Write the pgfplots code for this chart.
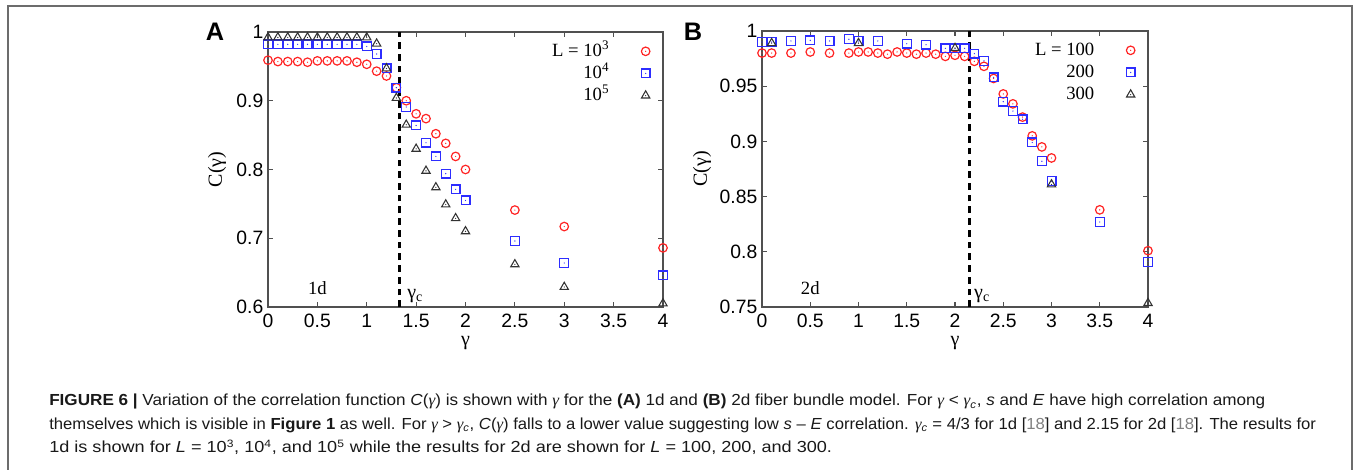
\documentclass[border=0pt]{standalone}
\usepackage{fontspec}
\setmainfont{Liberation Serif}
\setsansfont{Liberation Sans}
\usepackage{pgfplots}
\pgfplotsset{compat=1.18}

\definecolor{mred}{RGB}{255,35,35}
\definecolor{mblue}{RGB}{45,45,255}
\definecolor{mgray}{RGB}{50,50,50}
\definecolor{axgray}{RGB}{80,80,80}

% open marks with a dot in the middle
\pgfdeclareplotmark{dcirc}{%
  \pgfpathcircle{\pgfpointorigin}{\pgfplotmarksize}\pgfusepathqstroke
  \pgfpathcircle{\pgfpointorigin}{0.5pt}\pgfusepathqfill}
\pgfdeclareplotmark{dsq}{%
  \pgfpathrectangle{\pgfpoint{-\pgfplotmarksize}{-\pgfplotmarksize}}{\pgfpoint{2\pgfplotmarksize}{2\pgfplotmarksize}}\pgfusepathqstroke
  \pgfpathcircle{\pgfpointorigin}{0.5pt}\pgfusepathqfill}
\pgfdeclareplotmark{dtri}{%
  \pgfpathmoveto{\pgfpointpolar{90}{\pgfplotmarksize}}%
  \pgfpathlineto{\pgfpointpolar{210}{\pgfplotmarksize}}%
  \pgfpathlineto{\pgfpointpolar{330}{\pgfplotmarksize}}%
  \pgfpathclose\pgfusepathqstroke
  \pgfpathcircle{\pgfpointorigin}{0.5pt}\pgfusepathqfill}

\pgfplotsset{
  fb/.style={
    scale only axis, clip=false,
    axis line style={axgray, line width=0.9pt},
    tick style={axgray, line width=0.8pt},
    tick align=inside, major tick length=4pt,
    xmin=0, xmax=4, xtick={0,0.5,1,1.5,2,2.5,3,3.5,4},
    ticklabel style={font=\sffamily\fontsize{14.5}{14.5}\selectfont},
    xticklabel style={yshift=-1.5pt},
    /pgf/number format/assume math mode=true,
    xlabel={γ}, ylabel={C(γ)},
    label style={font=\rmfamily\fontsize{15}{15}\selectfont},
    legend plot pos=right,
    legend image code/.code={\draw plot coordinates {(0cm,0cm)};},
    legend style={draw=none, fill=none, at={(axis description cs:1,1)},
      anchor=north east, xshift=-6.5pt, yshift=-4pt,
      font=\rmfamily\fontsize{14}{14}\selectfont,
      nodes={inner xsep=0pt, inner ysep=1.8pt, text height=10.5pt, text depth=2.5pt},
      /tikz/every odd column/.append style={column sep=24pt}},
    legend cell align=right,
  },
  r/.style={only marks, mark=dcirc, mark size=3.2pt, mred, line width=0.9pt},
  b/.style={only marks, mark=dsq, mark size=3.3pt, mblue, line width=0.9pt},
  k/.style={only marks, mark=dtri, mark size=3.6pt, mgray, line width=0.8pt},
  gc/.style={black, line width=1.8pt, dash pattern=on 5pt off 3.8pt, forget plot},
}

\begin{document}
\begin{tikzpicture}
\useasboundingbox (0pt,0pt) rectangle (1017pt,352.5pt);
\draw[gray!85!black, line width=1.2pt] (6pt,-2pt) -- (6pt,348pt) -- (1014pt,348pt) -- (1014pt,-2pt);

% panel A: 1d
\begin{axis}[fb, at={(201pt,122.25pt)}, anchor=south west,
  width=296.25pt, height=206.25pt,
  ymin=0.6, ymax=1, ytick={0.6,0.7,0.8,0.9,1},
  xlabel style={at={(axis description cs:0.5,-0.131)}, anchor=center},
  ylabel style={at={(axis description cs:-0.129,0.5)}, anchor=center}]
\addplot[gc] coordinates {(1.3333,0.6) (1.3333,1)};
\addplot[r] coordinates {
(0,0.959) (0.1,0.957) (0.2,0.957) (0.3,0.957) (0.4,0.956) (0.5,0.958)
(0.6,0.958) (0.7,0.958) (0.8,0.958) (0.9,0.956) (1.0,0.953) (1.1,0.943)
(1.2,0.936) (1.3,0.919) (1.4,0.900) (1.5,0.881) (1.6,0.874) (1.7,0.852)
(1.8,0.838) (1.9,0.819) (2.0,0.800) (2.5,0.741) (3.0,0.717) (4.0,0.686)};
\addlegendentry{L = 10\textsuperscript{3}}
\addplot[b] coordinates {
(0,0.982) (0.1,0.982) (0.2,0.982) (0.3,0.982) (0.4,0.982) (0.5,0.982)
(0.6,0.982) (0.7,0.982) (0.8,0.982) (0.9,0.982) (1.0,0.979) (1.1,0.968)
(1.2,0.947) (1.3,0.919) (1.4,0.891) (1.5,0.864) (1.6,0.839) (1.7,0.819)
(1.8,0.794) (1.9,0.771) (2.0,0.755) (2.5,0.696) (3.0,0.664) (4.0,0.646)};
\addlegendentry{10\textsuperscript{4}}
\addplot[k] coordinates {
(0,0.992) (0.1,0.992) (0.2,0.992) (0.3,0.992) (0.4,0.992) (0.5,0.992)
(0.6,0.992) (0.7,0.992) (0.8,0.992) (0.9,0.992) (1.0,0.992) (1.1,0.983)
(1.2,0.947) (1.3,0.904) (1.4,0.865) (1.5,0.830) (1.6,0.798) (1.7,0.774)
(1.8,0.749) (1.9,0.729) (2.0,0.710) (2.5,0.662) (3.0,0.629) (4.0,0.605)};
\addlegendentry{10\textsuperscript{5}}
\node[font=\rmfamily\fontsize{14}{14}\selectfont] at (axis cs:0.5,0.628) {1d};
\node[font=\rmfamily\fontsize{15}{15}\selectfont] at (axis cs:1.49,0.616) {γ\textsubscript{c}};
\end{axis}

% panel B: 2d
\begin{axis}[fb, at={(571.5pt,122.25pt)}, anchor=south west,
  width=289.5pt, height=207pt,
  ymin=0.75, ymax=1, ytick={0.75,0.8,0.85,0.9,0.95,1},
  xlabel style={at={(axis description cs:0.5,-0.13)}, anchor=center},
  ylabel style={at={(axis description cs:-0.155,0.5)}, anchor=center}]
\addplot[gc] coordinates {(2.15,0.75) (2.15,1)};
\addplot[r] coordinates {
(0,0.980) (0.1,0.980) (0.3,0.980) (0.5,0.981) (0.7,0.980) (0.9,0.980)
(1.0,0.981) (1.1,0.981) (1.2,0.980) (1.3,0.979) (1.4,0.981) (1.5,0.980)
(1.6,0.979) (1.7,0.980) (1.8,0.979) (1.9,0.977) (2.0,0.978) (2.1,0.977)
(2.2,0.9725) (2.3,0.968) (2.4,0.957) (2.5,0.943) (2.6,0.934) (2.7,0.922)
(2.8,0.905) (2.9,0.895) (3.0,0.885) (3.5,0.838) (4.0,0.801)};
\addlegendentry{L = 100}
\addplot[b] coordinates {
(0,0.990) (0.1,0.990) (0.3,0.991) (0.5,0.9915) (0.7,0.991) (0.9,0.9925)
(1.0,0.991) (1.2,0.991) (1.5,0.9885) (1.7,0.9876) (1.9,0.9843) (2.0,0.9843)
(2.1,0.9843) (2.2,0.9795) (2.3,0.973) (2.4,0.958) (2.5,0.936) (2.6,0.9275)
(2.7,0.920) (2.8,0.899) (2.9,0.882) (3.0,0.864) (3.5,0.827) (4.0,0.791)};
\addlegendentry{200}
\addplot[k] coordinates {
(0.1,0.989) (1.0,0.989) (2.0,0.9845) (3.0,0.861) (4.0,0.7535)};
\addlegendentry{300}
\node[font=\rmfamily\fontsize{14}{14}\selectfont] at (axis cs:0.5,0.767) {2d};
\node[font=\rmfamily\fontsize{15}{15}\selectfont] at (axis cs:2.28,0.760) {γ\textsubscript{c}};
\end{axis}

\node[font=\sffamily\bfseries\fontsize{19}{19}\selectfont] at (161.25pt,328.9pt) {A};
\node[font=\sffamily\bfseries\fontsize{19}{19}\selectfont] at (519.75pt,328.9pt) {B};

% caption
\newcommand{\g}{{\rmfamily\itshape γ}}
\newcommand{\gc}{{\rmfamily\itshape γ}\textsubscript{\textit{c}}}
\begin{scope}[every node/.style={anchor=base west, inner sep=0pt, font=\sffamily\fontsize{12}{13}\selectfont, text=black!90}]
\node at (36.75pt,48pt) {\resizebox{912pt}{\height}{\textbf{FIGURE 6 |} Variation of the correlation function \textit{C}(\g) is shown with \g{} for the \textbf{(A)} 1d and \textbf{(B)} 2d fiber bundle model. For \g{} < \gc, \textit{s} and \textit{E} have high correlation among}};
\node at (36.75pt,30.4pt) {\resizebox{950pt}{\height}{themselves which is visible in \textbf{Figure 1} as well. For \g{} > \gc, \textit{C}(\g) falls to a lower value suggesting low \textit{s} – \textit{E} correlation. \gc{} = 4/3 for 1d [\textcolor{gray}{18}] and 2.15 for 2d [\textcolor{gray}{18}]. The results for}};
\node at (36.75pt,12.8pt) {\resizebox{587pt}{\height}{1d is shown for \textit{L} = 10\textsuperscript{3}, 10\textsuperscript{4}, and 10\textsuperscript{5} while the results for 2d are shown for \textit{L} = 100, 200, and 300.}};
\end{scope}
\end{tikzpicture}
\end{document}
